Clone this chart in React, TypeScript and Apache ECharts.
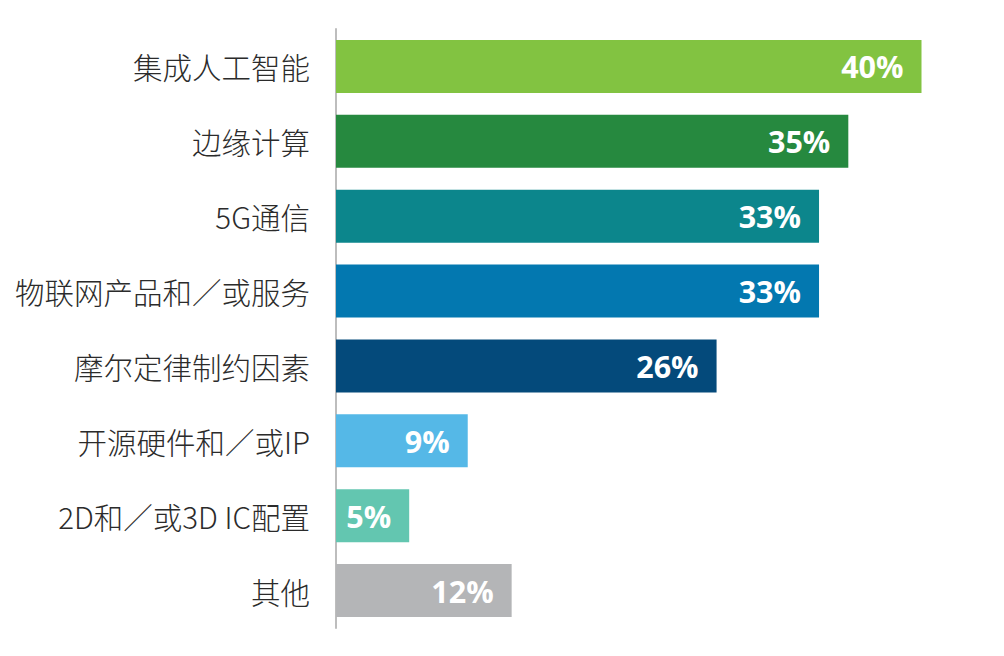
import React, { useEffect, useRef } from "react";
import * as echarts from "echarts";

const categories = [
  "集成人工智能",
  "边缘计算",
  "5G通信",
  "物联网产品和／或服务",
  "摩尔定律制约因素",
  "开源硬件和／或IP",
  "2D和／或3D IC配置",
  "其他",
];
const values = [40, 35, 33, 33, 26, 9, 5, 12];
const colors = [
  "#82c341",
  "#26893f",
  "#0c868c",
  "#0378b0",
  "#044a7b",
  "#55b8e7",
  "#63c6b0",
  "#b4b5b7",
];

export default function App() {
  const ref = useRef<HTMLDivElement>(null);
  useEffect(() => {
    if (!ref.current) return;
    const chart = echarts.init(ref.current, undefined, { renderer: "svg" });
    chart.setOption({
      animation: false,
      backgroundColor: "#ffffff",
      grid: { left: 336, right: 82.5, top: 29, bottom: 28, containLabel: false },
      xAxis: {
        type: "value",
        min: 0,
        max: 40,
        show: false,
      },
      yAxis: {
        type: "category",
        inverse: true,
        data: categories,
        axisLine: { show: true, lineStyle: { color: "#bdbdbd", width: 2 } },
        axisTick: { show: false },
        splitLine: { show: false },
        axisLabel: {
          fontSize: 29.5,
          color: "#2b2b2b",
          margin: 26,
          fontFamily: "'Noto Sans CJK SC', 'Noto Sans', sans-serif",
          fontWeight: 300,
        },
      },
      series: [
        {
          type: "bar",
          barWidth: 53,
          data: values.map((v, i) => ({ value: v, itemStyle: { color: colors[i] } })),
          label: {
            show: true,
            position: "insideRight",
            distance: 18,
            formatter: "{c}%",
            color: "#ffffff",
            fontSize: 30.5,
            fontWeight: "bold",
            fontFamily: "'Open Sans', sans-serif",
          },
        },
      ],
    });
    return () => chart.dispose();
  }, []);
  return (
    <div
      ref={ref}
      style={{ position: "fixed", left: 0, top: 0, width: 1004, height: 656, background: "#fff" }}
    />
  );
}
